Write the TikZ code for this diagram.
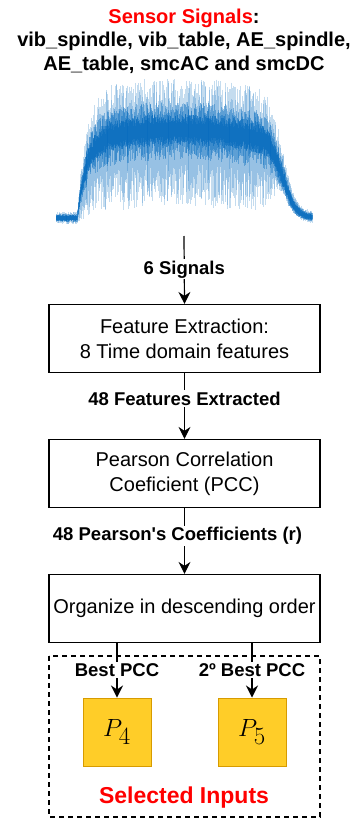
\documentclass[tikz,border=0pt]{standalone}
\usepackage{fontspec}
\setmainfont{Liberation Sans}
\newfontfamily\lblfont{Liberation Sans}
\usetikzlibrary{arrows.meta,calc}
\definecolor{wavecol}{RGB}{8,108,190}
\definecolor{pfill}{HTML}{FFCD28}
\definecolor{pdraw}{HTML}{D79B00}
\tikzset{
  procbox/.style={draw=black, line width=1.2pt, minimum width=271pt, minimum height=68pt, inner sep=0pt, align=center, font=\fontsize{20}{25}\selectfont},
  pbox/.style={draw=pdraw, fill=pfill, line width=1pt, minimum width=68pt, minimum height=68pt, inner sep=0pt, font=\fontsize{38}{38}\selectfont},
  arr/.style={line width=1.2pt, -{Stealth[length=12pt,width=12pt,inset=4pt]}},
  lbl/.style={fill=white, inner sep=1.5pt, font=\lblfont\fontsize{18.5}{20}\selectfont\bfseries},
  title/.style={align=center, font=\fontsize{20}{23.5}\selectfont\bfseries},
}
\begin{document}
\begin{tikzpicture}[x=1pt,y=-1pt]
\useasboundingbox (0,0) rectangle (355,819);
% title
\node[title] (title) at (184,41) {\textcolor{red}{Sensor Signals}:\\vib\_spindle, vib\_table, AE\_spindle,\\AE\_table, smcAC and smcDC};
% waveform
\pgfmathsetseed{4242}
\foreach \i in {0,...,525}{
  \pgfmathsetmacro\x{56+\i*0.488}
  \pgfmathsetmacro\pr{\x<77 ? 0 : 1-exp(-(\x-77)/9)}
  \pgfmathsetmacro\pf{1/(1+exp((\x-283)/6.5))}
  \pgfmathsetmacro\p{\pr*\pf}
  \pgfmathsetmacro\c{218-\p*(80+7*sin((\x-95)*1.1))}
  \pgfmathsetmacro\au{3+3*rnd+\p*(16+32*rnd)}
  \pgfmathsetmacro\ad{3+3*rnd+\p*(\pf*\pf*(20+42*rnd)+8)}
  \pgfmathsetmacro\mu{2+2*rnd+\p*(8+18*rnd)}
  \pgfmathsetmacro\md{2+2*rnd+\p*(6+20*rnd)}
  \pgfmathsetmacro\ku{1.5+1.5*rnd+\p*(5+10*rnd)}
  \pgfmathsetmacro\kd{1.5+1.5*rnd+\p*(3+9*rnd)}
  \draw[wavecol, opacity=0.24, line width=0.5pt] (\x,\c-\au) -- (\x,\c+\ad);
  \draw[wavecol, opacity=0.4, line width=0.5pt] (\x,\c-\mu) -- (\x,\c+\md);
  \draw[wavecol, opacity=0.6, line width=0.5pt] (\x,\c-\ku) -- (\x,\c+\kd);
}
\coordinate (wend) at (184,236);
% boxes
\node[procbox] (b1) at (184.5,338.5) {Feature Extraction:\\8 Time domain features};
\node[procbox] (b2) at (184.5,473.5) {Pearson Correlation\\Coeficient (PCC)};
\node[procbox] (b3) at (184.5,608.5) {Organize in descending order};
% arrows
\draw[arr] (wend) -- node[lbl, pos=0.49] {6 Signals} (b1.north);
\draw[arr] (b1.south) -- node[lbl, pos=0.39] {48 Features Extracted} (b2.north);
\draw[arr] (b2.south) -- node[lbl, pos=0.42, xshift=-7pt] {48 Pearson's Coefficients (r)} (b3.north);
% selected inputs
\draw[line width=1.2pt, dash pattern=on 5pt off 4pt] (49,656) rectangle (320,817);
\node[pbox] (p4) at (117,732) {$P_4$};
\node[pbox] (p5) at (252,732) {$P_5$};
\draw[arr] (b3.south -| p4.north) -- node[lbl, pos=0.5] {Best PCC} (p4.north);
\draw[arr] (b3.south -| p5.north) -- node[lbl, pos=0.5] {2º Best PCC} (p5.north);
\node[font=\fontsize{23}{25}\selectfont\bfseries, text=red] (sel) at (184,798) {Selected Inputs};
\end{tikzpicture}
\end{document}
